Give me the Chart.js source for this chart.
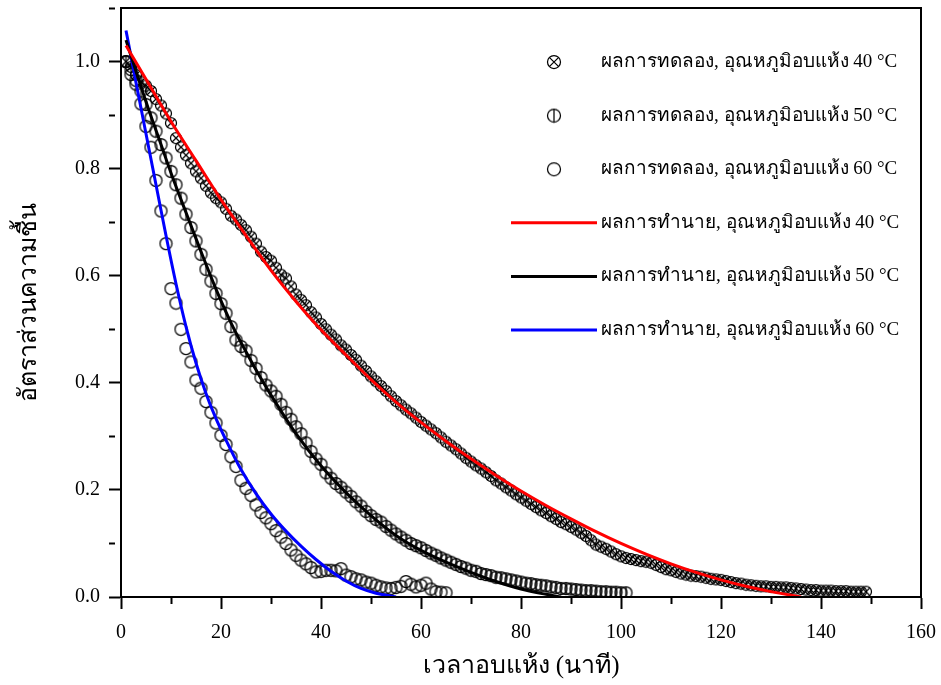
<!DOCTYPE html>
<html>
<head>
<meta charset="utf-8">
<script src="https://cdn.jsdelivr.net/npm/chart.js@4.4.1/dist/chart.umd.min.js"></script>
<style>
  html, body { margin: 0; padding: 0; background: #ffffff; }
</style>
</head>
<body>
<canvas id="dryingChart" width="941" height="685"></canvas>
<script>
// experimental moisture ratio, one reading per minute starting at t = 1
const exp40 = [
  1.000, 0.990, 0.975, 0.962, 0.955, 0.945, 0.930, 0.918, 0.903, 0.885,
  0.857, 0.840, 0.825, 0.810, 0.795, 0.782, 0.768, 0.755, 0.745, 0.737,
  0.725, 0.712, 0.705, 0.695, 0.685, 0.673, 0.660, 0.645, 0.635, 0.628,
  0.615, 0.602, 0.595, 0.580, 0.565, 0.555, 0.545, 0.532, 0.522, 0.510,
  0.500, 0.490, 0.481, 0.470, 0.462, 0.452, 0.443, 0.432, 0.422, 0.412,
  0.403, 0.394, 0.385, 0.375, 0.366, 0.358, 0.350, 0.343, 0.335, 0.327,
  0.320, 0.313, 0.306, 0.298, 0.290, 0.283, 0.276, 0.268, 0.260, 0.253,
  0.246, 0.240, 0.233, 0.226, 0.218, 0.212, 0.205, 0.199, 0.192, 0.186,
  0.180, 0.174, 0.168, 0.162, 0.157, 0.151, 0.146, 0.140, 0.136, 0.131,
  0.126, 0.120, 0.114, 0.106, 0.098, 0.094, 0.090, 0.085, 0.080, 0.076,
  0.073, 0.071, 0.069, 0.067, 0.066, 0.064, 0.060, 0.056, 0.052, 0.050,
  0.047, 0.044, 0.042, 0.040, 0.039, 0.038, 0.036, 0.034, 0.033, 0.032,
  0.030, 0.028, 0.026, 0.025, 0.023, 0.022, 0.021, 0.020, 0.020, 0.019,
  0.019, 0.018, 0.018, 0.017, 0.016, 0.015, 0.014, 0.013, 0.013, 0.012,
  0.012, 0.012, 0.011, 0.011, 0.011, 0.010, 0.010, 0.010, 0.010
];
const exp50 = [
  1.000, 0.985, 0.965, 0.945, 0.920, 0.895, 0.870, 0.845, 0.820, 0.795,
  0.770, 0.745, 0.715, 0.690, 0.665, 0.640, 0.612, 0.590, 0.567, 0.548,
  0.530, 0.505, 0.480, 0.468, 0.460, 0.442, 0.427, 0.410, 0.396, 0.385,
  0.375, 0.360, 0.345, 0.332, 0.318, 0.305, 0.288, 0.272, 0.258, 0.248,
  0.232, 0.222, 0.212, 0.205, 0.196, 0.188, 0.178, 0.170, 0.160, 0.152,
  0.145, 0.140, 0.132, 0.125, 0.118, 0.112, 0.106, 0.100, 0.096, 0.092,
  0.087, 0.082, 0.078, 0.073, 0.069, 0.065, 0.061, 0.057, 0.054, 0.050,
  0.048, 0.044, 0.042, 0.040, 0.037, 0.036, 0.034, 0.032, 0.030, 0.028,
  0.026, 0.025, 0.023, 0.022, 0.021, 0.019, 0.018, 0.016, 0.016, 0.015,
  0.014, 0.013, 0.012, 0.012, 0.011, 0.010, 0.010, 0.009, 0.009, 0.008,
  0.008
];
const exp60 = [
  1.000, 0.976, 0.958, 0.921, 0.879, 0.840, 0.778, 0.721, 0.660, 0.576,
  0.549, 0.500, 0.464, 0.439, 0.405, 0.390, 0.365, 0.345, 0.325, 0.302,
  0.285, 0.262, 0.244, 0.218, 0.203, 0.190, 0.172, 0.158, 0.148, 0.137,
  0.124, 0.112, 0.100, 0.088, 0.078, 0.069, 0.062, 0.055, 0.047, 0.048,
  0.050, 0.050, 0.049, 0.053, 0.041, 0.038, 0.034, 0.032, 0.028, 0.026,
  0.022, 0.019, 0.017, 0.016, 0.018, 0.020, 0.029, 0.024, 0.019, 0.022,
  0.026, 0.015, 0.010, 0.009, 0.008
];

// predicted curves (model), read at selected times
const predT40 = [1, 5, 10, 15, 20, 25, 30, 35, 40, 45, 50, 55, 60, 65, 70, 75, 80, 85, 90, 95, 100, 105, 110, 115, 120, 125, 130, 136];
const pred40  = [1.030, 0.967, 0.888, 0.815, 0.742, 0.675, 0.610, 0.552, 0.499, 0.452, 0.406, 0.364, 0.326, 0.291, 0.258, 0.227, 0.198, 0.171, 0.146, 0.122, 0.100, 0.080, 0.062, 0.046, 0.032, 0.020, 0.010, 0.000];
const predT50 = [1, 3, 5, 8, 10, 13, 16, 19, 22, 25, 28, 31, 35, 40, 45, 50, 55, 60, 65, 70, 75, 80, 85, 88];
const pred50  = [1.040, 0.982, 0.925, 0.845, 0.792, 0.718, 0.645, 0.575, 0.512, 0.458, 0.408, 0.362, 0.305, 0.245, 0.195, 0.152, 0.115, 0.087, 0.065, 0.046, 0.029, 0.015, 0.005, 0.000];
const predT60 = [1, 3, 5, 7, 9, 11, 13, 15, 17, 19, 21, 24, 27, 30, 33, 36, 39, 42, 45, 48, 51, 55];
const pred60  = [1.058, 0.961, 0.865, 0.770, 0.675, 0.585, 0.505, 0.437, 0.380, 0.333, 0.293, 0.238, 0.193, 0.155, 0.123, 0.095, 0.070, 0.048, 0.030, 0.016, 0.007, 0.000];

const xTicks = [0, 20, 40, 60, 80, 100, 120, 140, 160];
const yTicks = ['0.0', '0.2', '0.4', '0.6', '0.8', '1.0'];

const labelsExp  = ['ผลการทดลอง, อุณหภูมิอบแห้ง 40 °C', 'ผลการทดลอง, อุณหภูมิอบแห้ง 50 °C', 'ผลการทดลอง, อุณหภูมิอบแห้ง 60 °C'];
const labelsPred = ['ผลการทำนาย, อุณหภูมิอบแห้ง 40 °C', 'ผลการทำนาย, อุณหภูมิอบแห้ง 50 °C', 'ผลการทำนาย, อุณหภูมิอบแห้ง 60 °C'];

const FONT = "'Liberation Serif', 'Times New Roman', serif";

// open markers drawn once on small canvases
function makeMarker(kind, size) {
  const c = document.createElement('canvas');
  c.width = size + 3;
  c.height = size + 3;
  const g = c.getContext('2d');
  const m = c.width / 2, r = size / 2;
  g.strokeStyle = '#000';
  g.lineWidth = 1.25;
  g.beginPath();
  g.arc(m, m, r, 0, Math.PI * 2);
  g.stroke();
  if (kind === 'x') {
    const d = r * 0.72;
    g.beginPath();
    g.moveTo(m - d, m - d); g.lineTo(m + d, m + d);
    g.moveTo(m + d, m - d); g.lineTo(m - d, m + d);
    g.stroke();
  } else if (kind === 'bar') {
    g.beginPath();
    g.moveTo(m, m - r); g.lineTo(m, m + r);
    g.stroke();
  }
  return c;
}
const markers = [makeMarker('x', 11), makeMarker('bar', 12), makeMarker('o', 12)];
const legendMarkers = [makeMarker('x', 13), makeMarker('bar', 13), makeMarker('o', 13)];

const minutes = n => Array.from({ length: n }, (_, i) => i + 1);
const pairs = (t, v) => t.map((x, i) => ({ x: x, y: v[i] }));

function predSet(label, t, v, color) {
  return {
    type: 'line', label: label, data: pairs(t, v),
    borderColor: color, backgroundColor: color, borderWidth: 3,
    pointRadius: 0, cubicInterpolationMode: 'monotone', fill: false, order: 0
  };
}
function expSet(label, v, marker, legendMarker) {
  return {
    type: 'scatter', label: label, data: pairs(minutes(v.length), v),
    pointStyle: marker, legendMarker: legendMarker, pointRadius: 6,
    borderColor: '#000', backgroundColor: 'rgba(0,0,0,0)',
    showLine: false, order: 1
  };
}

// legend sits inside the plot, top right
const insideLegend = {
  id: 'insideLegend',
  afterDraw(chart) {
    const ctx = chart.ctx;
    const rows = [3, 4, 5, 0, 1, 2];
    ctx.save();
    ctx.font = '19px ' + FONT;
    ctx.fillStyle = '#000';
    ctx.textBaseline = 'middle';
    rows.forEach((di, i) => {
      const ds = chart.data.datasets[di];
      const y = 62 + i * 53.6;
      if (ds.type === 'line') {
        ctx.strokeStyle = ds.borderColor;
        ctx.lineWidth = 3;
        ctx.beginPath();
        ctx.moveTo(511, y);
        ctx.lineTo(597, y);
        ctx.stroke();
      } else {
        const img = ds.legendMarker;
        ctx.drawImage(img, 554 - img.width / 2, y - img.height / 2);
      }
      ctx.fillText(ds.label, 601, y);
    });
    ctx.restore();
  }
};

// closed frame around the plotting area
const frame = {
  id: 'frame',
  afterDatasetsDraw(chart) {
    const a = chart.chartArea, ctx = chart.ctx;
    ctx.save();
    ctx.strokeStyle = '#000';
    ctx.lineWidth = 2;
    ctx.strokeRect(a.left, a.top, a.right - a.left, a.bottom - a.top);
    ctx.restore();
  }
};

// minor ticks: only the first few pixels of the tick line are drawn
const xMinorDash = c => (c.tick && xTicks.includes(c.tick.value)) ? [] : [6, 40];
const yMinorDash = c => (c.tick && yTicks.includes(c.tick.value.toFixed(1))) ? [] : [6, 40];

new Chart(document.getElementById('dryingChart').getContext('2d'), {
  type: 'scatter',
  data: {
    datasets: [
      predSet(labelsPred[0], predT40, pred40, '#ff0000'),
      predSet(labelsPred[1], predT50, pred50, '#000000'),
      predSet(labelsPred[2], predT60, pred60, '#0000ff'),
      expSet(labelsExp[0], exp40, markers[0], legendMarkers[0]),
      expSet(labelsExp[1], exp50, markers[1], legendMarkers[1]),
      expSet(labelsExp[2], exp60, markers[2], legendMarkers[2])
    ]
  },
  options: {
    responsive: false,
    animation: false,
    devicePixelRatio: 1,
    layout: { padding: { top: 8, right: 20, left: 0, bottom: 0 } },
    plugins: { legend: { display: false }, tooltip: { enabled: false } },
    scales: {
      x: {
        type: 'linear', min: 0, max: 160,
        ticks: {
          stepSize: 10, autoSkip: false, maxRotation: 0, padding: 12, color: '#000',
          font: { family: FONT, size: 20 },
          callback: v => xTicks.includes(v) ? String(v) : ''
        },
        grid: { drawOnChartArea: false, tickLength: 12, tickWidth: 2, tickColor: '#000', tickBorderDash: xMinorDash },
        border: { color: '#000', width: 2 },
        title: { display: true, text: 'เวลาอบแห้ง (นาที)', color: '#000', font: { family: FONT, size: 25 }, padding: { top: 0, bottom: 4 } },
        afterFit: s => { s.height = 88; s.paddingLeft = 0; s.paddingRight = 0; }
      },
      y: {
        type: 'linear', min: 0, max: 1.1,
        ticks: {
          stepSize: 0.1, autoSkip: false, padding: 9, color: '#000',
          font: { family: FONT, size: 20 },
          callback: v => {
            const s = v.toFixed(1);
            return yTicks.includes(s) ? s : '';
          }
        },
        grid: { drawOnChartArea: false, tickLength: 12, tickWidth: 2, tickColor: '#000', tickBorderDash: yMinorDash },
        border: { color: '#000', width: 2 },
        title: { display: true, text: 'อัตราส่วนความชื้น', color: '#000', font: { family: FONT, size: 25 }, padding: { top: 14, bottom: 0 } },
        afterFit: s => { s.width = 121; s.paddingTop = 0; s.paddingBottom = 0; }
      }
    }
  },
  plugins: [frame, insideLegend]
});
</script>
</body>
</html>
